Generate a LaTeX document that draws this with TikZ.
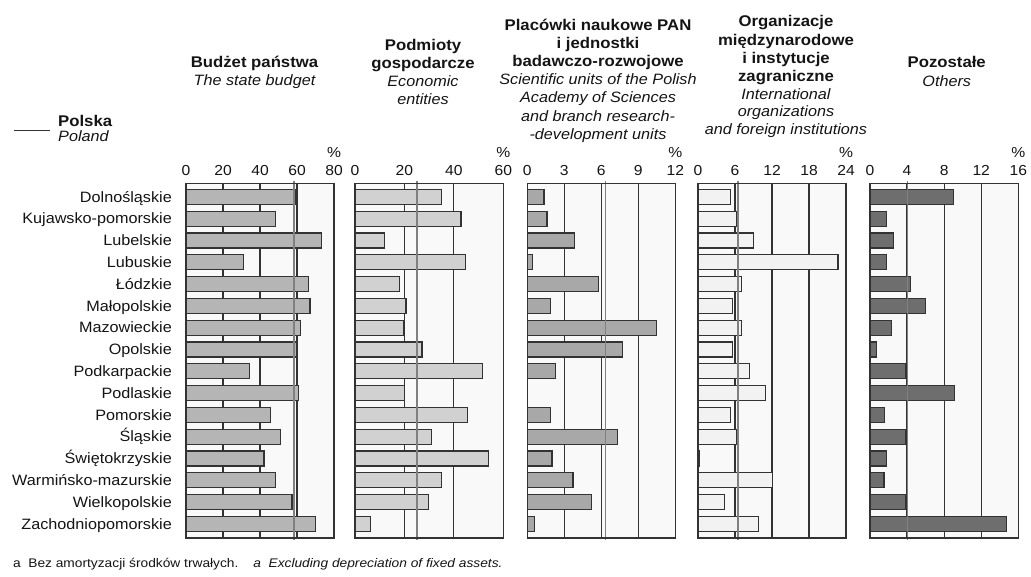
\documentclass[tikz,border=0pt]{standalone}
\usepackage{fontspec}
\setmainfont{Liberation Sans}[FakeStretch=1.08]
\newfontfamily\footfont{Liberation Sans}[FakeStretch=1.1]
\definecolor{framebg}{gray}{0.975}
\definecolor{edge}{gray}{0.2}
\definecolor{cA}{gray}{0.71}
\definecolor{cB}{gray}{0.82}
\definecolor{cC}{gray}{0.66}
\definecolor{cD}{gray}{0.95}
\definecolor{cE}{gray}{0.43}
\definecolor{polc}{gray}{0.5}
\tikzset{
  gridline/.style={draw=edge, line width=1.2pt},
  barbox/.style={draw=edge, line width=1.2pt},
  frameline/.style={draw=edge, line width=1.2pt},
  polline/.style={draw=polc, line width=1.5pt},
  lbl/.style={font=\fontsize{15}{18}\selectfont, inner sep=0pt, text=black!92},
  ticklbl/.style={font=\fontsize{14.5}{17}\selectfont, inner sep=0pt, anchor=base, text=black!92},
  hdb/.style={font=\fontsize{15.5}{18}\selectfont\bfseries, inner sep=0pt, anchor=base, text=black!92},
  hdi/.style={font=\fontsize{15}{18}\selectfont\itshape, inner sep=0pt, anchor=base, text=black!92},
}
\newcommand\drawpanel[8]{%
  \fill[framebg] (#2,183.3) rectangle (#3,538);
  \foreach \g in {#7} {
    \pgfmathsetmacro\gx{#2+(#3-#2)*\g/#4}
    \draw[gridline] (\gx,183.3) -- (\gx,538);
    \node[ticklbl] (tick#1-\g) at (\gx,175) {\g};
  }
  \foreach \v [count=\i from 0] in {#8} {
    \ifdim \v pt>0pt
      \draw[barbox,fill=#5] (#2,{189.3+21.8*\i}) rectangle ({#2+(#3-#2)*\v/#4},{204.3+21.8*\i});
    \fi
  }
  \pgfmathsetmacro\px{#2+(#3-#2)*#6/#4}
  \coordinate (pt#1) at (\px,181);
  \coordinate (pb#1) at (\px,540);
  \draw[polline] (pt#1) -- (pb#1);
  \draw[frameline] (#2,183.3) rectangle (#3,538);
  \node[ticklbl] (pct#1) at (#3,157) {\%};
}
\begin{document}
\begin{tikzpicture}[x=1pt,y=-1pt]
\useasboundingbox (0,0) rectangle (1031,576);

% legend
\coordinate (legA) at (14,130);
\coordinate (legB) at (50,130);
\draw[edge, line width=1pt] (legA) -- (legB);
\node[hdb, anchor=base west] (polska) at (58,126.7) {Polska};
\node[hdi, anchor=base west] (poland) at (58,141.7) {Poland};

% headers
\node[hdb] (h1a) at (254.5,67.3) {Budżet państwa};
\node[hdi] (h1b) at (254.5,85.3) {The state budget};

\node[hdb] (h2a) at (423,50) {Podmioty};
\node[hdb] (h2b) at (423,68) {gospodarcze};
\node[hdi] (h2c) at (423,86) {Economic};
\node[hdi] (h2d) at (423,104) {entities};

\node[hdb] (h3a) at (598,30) {Placówki naukowe PAN};
\node[hdb] (h3b) at (598,48.2) {i jednostki};
\node[hdb] (h3c) at (598,66.4) {badawczo-rozwojowe};
\node[hdi] (h3d) at (598,84.6) {Scientific units of the Polish};
\node[hdi] (h3e) at (598,102.8) {Academy of Sciences};
\node[hdi] (h3f) at (598,121) {and branch research-};
\node[hdi] (h3g) at (598,139.2) {-development units};

\node[hdb] (h4a) at (786,26.7) {Organizacje};
\node[hdb] (h4b) at (786,45) {międzynarodowe};
\node[hdb] (h4c) at (786,63.3) {i instytucje};
\node[hdb] (h4d) at (786,81) {zagraniczne};
\node[hdi] (h4e) at (786,99) {International};
\node[hdi] (h4f) at (786,116.7) {organizations};
\node[hdi] (h4g) at (786,134.3) {and foreign institutions};

\node[hdb] (h5a) at (946.7,67.7) {Pozostałe};
\node[hdi] (h5b) at (946.7,86.2) {Others};

% region labels
\foreach \r [count=\i from 0] in {Dolnośląskie, Kujawsko-pomorskie, Lubelskie, Lubuskie, Łódzkie, Małopolskie, Mazowieckie, Opolskie, Podkarpackie, Podlaskie, Pomorskie, Śląskie, Świętokrzyskie, Warmińsko-mazurskie, Wielkopolskie, Zachodniopomorskie}
  \node[lbl, anchor=base east] (reg\i) at (172,{202.1+21.8*\i}) {\r};

% panels
\drawpanel{1}{186}{334}{80}{cA}{58.5}{0,20,40,60,80}
  {59.5,48.5,73.2,30.9,66,67,61.7,59.7,34.5,60.8,45.8,51.2,42.2,48.5,57.3,69.8}
\drawpanel{2}{355}{503.3}{60}{cB}{25.1}{0,20,40,60}
  {34.9,42.9,12,44.8,17.9,20.6,19.6,27.1,51.5,20,45.6,31.1,54.1,35.1,29.7,6.2}
\drawpanel{3}{527.3}{675.3}{12}{cC}{6.35}{0,3,6,9,12}
  {1.35,1.6,3.8,0.4,5.8,1.9,10.5,7.7,2.3,0,1.9,7.3,2.0,3.7,5.2,0.6}
\drawpanel{4}{698}{846}{24}{cD}{6.5}{0,6,12,18,24}
  {5.3,6.2,9.0,22.7,7.1,5.6,7.1,5.6,8.4,10.9,5.3,6.3,0.3,12.05,4.3,9.8}
\drawpanel{5}{870}{1018.3}{16}{cE}{4.06}{0,4,8,12,16}
  {9.0,1.76,2.5,1.76,4.4,6.0,2.3,0.7,3.85,9.1,1.6,3.85,1.8,1.5,3.85,14.7}

% footnote
\node[inner sep=0pt, anchor=base west, text=black!92, font=\footfont\fontsize{12.5}{14}\selectfont] (foot) at (13,567)
  {a\hspace{0.6em}Bez amortyzacji środków trwałych.\hspace{1.2em}\textit{a\hspace{0.6em}Excluding depreciation of fixed assets.}};
\end{tikzpicture}
\end{document}
